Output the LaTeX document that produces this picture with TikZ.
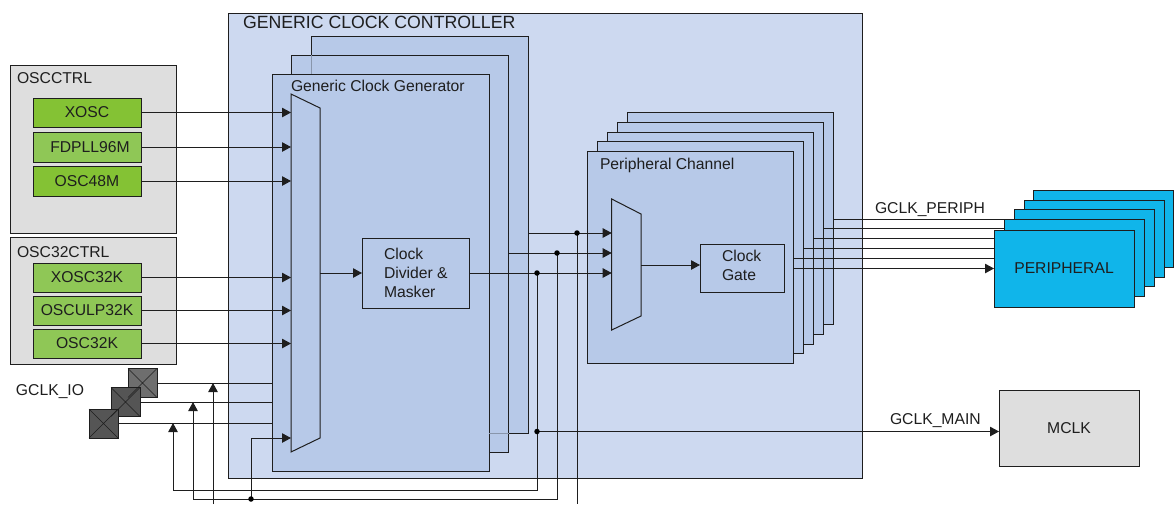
\documentclass[tikz,border=0pt]{standalone}
\usepackage{fontspec}
\setmainfont{Liberation Sans}
\usetikzlibrary{arrows.meta}
\definecolor{ctrlblue}{HTML}{CDD9F0}
\definecolor{panelblue}{HTML}{B7C9E8}
\definecolor{oscgray}{HTML}{DEDEDE}
\definecolor{oscgreen}{HTML}{84C234}
\definecolor{pllgreen}{HTML}{8FC756}
\definecolor{periphblue}{HTML}{10B5EA}
\definecolor{padgray}{HTML}{555555}
\definecolor{inkgray}{HTML}{1E1E1E}
\tikzset{
    box/.style={draw=inkgray,line width=1pt,inner sep=0pt,outer sep=0pt,rectangle},
    panel/.style={box,fill=panelblue},
    osc/.style={box,fill=oscgreen,font=\fontsize{15.7}{17}\selectfont,text=inkgray},
    periph/.style={box,fill=periphblue},
    pad/.style={box,fill=padgray,minimum size=29pt},
    label/.style={inner sep=0pt,outer sep=0pt,anchor=west,text=inkgray,font=\fontsize{15.7}{17}\selectfont},
    wire/.style={draw=inkgray,line width=1pt},
    arrow/.style={wire,-{Triangle[length=9pt,width=9.5pt]}},
    joint/.style={circle,fill=black,inner sep=0pt,minimum size=5.5pt}
}
\begin{document}
\begin{tikzpicture}[x=1pt,y=-1pt]
    \useasboundingbox (0,0) rectangle (1175,504);
    % oscillators
    \node[box,fill=oscgray,minimum width=166pt,minimum height=168pt] (oscctrl) at (93,149) {};
    \node[box,fill=oscgray,minimum width=166pt,minimum height=127pt] (osc32ctrl) at (93,300.5) {};
    \node[label] (oscctrltxt) at (17,78) {OSCCTRL};
    \node[label] (osc32ctrltxt) at (17,252) {OSC32CTRL};
    \node[osc,minimum width=108pt,minimum height=29pt] (xosc) at (87,112.5) {XOSC};
    \node[osc,fill=pllgreen,minimum width=108pt,minimum height=30pt] (fdpll) at (87,147) {\hspace*{6pt}FDPLL96M};
    \node[osc,minimum width=108pt,minimum height=30pt] (osc48) at (87,181) {OSC48M};
    \node[osc,fill=pllgreen,minimum width=108pt,minimum height=29pt] (xosc32) at (87,277.5) {XOSC32K};
    \node[osc,fill=pllgreen,minimum width=108pt,minimum height=29pt] (osculp) at (87,310.5) {OSCULP32K};
    \node[osc,fill=pllgreen,minimum width=108pt,minimum height=29pt] (osc32) at (87,343.5) {OSC32K};
    % controller and generators
    \node[box,fill=ctrlblue,minimum width=634pt,minimum height=465pt] (ctrl) at (545,245.5) {};
    \node[label,font=\fontsize{17.7}{19}\selectfont] (ctrltxt) at (243,22) {GENERIC CLOCK CONTROLLER};
    \node[panel,minimum width=217pt,minimum height=397pt] (genc) at (419.5,234.5) {};
    \node[panel,minimum width=217pt,minimum height=397pt] (genb) at (400,253.5) {};
    \node[panel,minimum width=217pt,minimum height=397pt] (gena) at (380.5,272.5) {};
    \draw[inkgray!30!panelblue] (genc.west |- genb.north) -- (genc.west |- gena.north);
    \draw[inkgray!30!panelblue] (gena.east |- genc.south) -- (genb.east |- genc.south);
    \node[label] (gentxt) at (291,85.5) {Generic Clock Generator};
    \coordinate (mtl) at (291,94);
    \coordinate (mtr) at (320,108);
    \coordinate (mbr) at (320,438);
    \coordinate (mbl) at (291,452);
    \draw[box,fill=panelblue] (mtl) -- (mtr) -- (mbr) -- (mbl) -- cycle;
    \node[box,fill=panelblue,minimum width=107pt,minimum height=70pt] (divider) at (415.5,273) {};
    \node[label,align=left,font=\fontsize{15.7}{19}\selectfont] (dividertxt) at (384,273) {Clock\\Divider \&\\Masker};
    % channels
    \foreach \i/\xc/\yt in {e/730/112.7,d/720/122.6,c/710/132,b/700/141,a/690/151}{
        \node[panel,minimum width=206pt,minimum height=212pt,anchor=north] (chan\i) at (\xc,\yt) {};
    }
    \node[label] (chantxt) at (600,165) {Peripheral Channel};
    \coordinate (ntl) at (611.7,199);
    \coordinate (ntr) at (641,214);
    \coordinate (nbr) at (641,316);
    \coordinate (nbl) at (611.7,330);
    \draw[box,fill=panelblue] (ntl) -- (ntr) -- (nbr) -- (nbl) -- cycle;
    \node[box,fill=panelblue,minimum width=84pt,minimum height=48pt] (gate) at (742,268.5) {};
    \node[label,align=left,font=\fontsize{15.7}{19}\selectfont] (gatetxt) at (722,265.5) {Clock\\Gate};
    % peripherals
    \foreach \i/\xc/\yt in {e/1103.7/190.7,d/1094.7/200,c/1084/209.7,b/1074/219.7}{
        \node[periph,minimum width=140pt,minimum height=77pt,anchor=north] (per\i) at (\xc,\yt) {};
    }
    \node[periph,minimum width=140pt,minimum height=77pt,font=\fontsize{15.7}{17}\selectfont,text=inkgray] (pera) at (1064,268.5) {PERIPHERAL};
    \node[box,fill=oscgray,minimum width=140pt,minimum height=76pt,font=\fontsize{15.7}{17}\selectfont,text=inkgray] (mclk) at (1069,428) {MCLK};
    % gclk pads
    \node[pad,fill=padgray!85!white] (padc) at (142.5,383) {};
    \node[pad] (padb) at (125.5,402) {};
    \node[pad] (pada) at (103.5,423.5) {};
    \foreach \p in {padc,padb,pada}{
        \draw[inkgray] (\p.north west) -- (\p.south east) (\p.north east) -- (\p.south west);
    }
    \node[label] (iotxt) at (16,392) {GCLK\_IO};
    \node[label] (periphtxt) at (875,210) {GCLK\_PERIPH};
    \node[label] (maintxt) at (890,421) {GCLK\_MAIN};
    % inputs of the generator mux
    \draw[arrow] (xosc.east) -- (291,112.5);
    \draw[arrow] (fdpll.east) -- (291,147);
    \draw[arrow] (osc48.east) -- (291,181);
    \draw[arrow] (xosc32.east) -- (291,277.5);
    \draw[arrow] (osculp.east) -- (291,310.5);
    \draw[arrow] (osc32.east) -- (291,343.5);
    \draw[wire] (padc.east) -- (padc.east -| gena.west);
    \draw[wire] (padb.east) -- (padb.east -| gena.west);
    \draw[wire] (pada.east) -- (pada.east -| gena.west);
    \draw[arrow] (320,273) -- (divider.west);
    % return paths
    \coordinate (ra) at (537,273);
    \coordinate (rb) at (557,253);
    \coordinate (rc) at (577,233);
    \coordinate (rm) at (537,431.5);
    \coordinate (rd) at (251,499);
    \draw[arrow] (divider.east) -- (611.7,273);
    \draw[arrow] (genb.east |- rb) -- (611.7,253);
    \draw[arrow] (genc.east |- rc) -- (611.7,233);
    \draw[arrow] (ra) -- (537,490.7) -- (173,490.7) -- (173,423);
    \draw[arrow] (rb) -- (557,499) -- (193,499) -- (193,402);
    \draw[wire] (rc) -- (577,504);
    \draw[arrow] (213,504) -- (213,383);
    \draw[arrow] (rd) -- (251,438) -- (291,438);
    \draw[arrow] (rm) -- (rm -| mclk.west);
    \node[joint] (ja) at (ra) {};
    \node[joint] (jb) at (rb) {};
    \node[joint] (jc) at (rc) {};
    \node[joint] (jm) at (rm) {};
    \node[joint] (jd) at (rd) {};
    % mux to gate and outputs
    \draw[arrow] (641,265) -- (gate.west |- 0,265);
    \draw[wire] (chane.east |- 0,219) -- (perb.west |- 0,219);
    \draw[wire] (chand.east |- 0,228.7) -- (perb.west |- 0,228.7);
    \draw[wire] (chanc.east |- 0,238) -- (pera.west |- 0,238);
    \draw[wire] (chanb.east |- 0,248.7) -- (pera.west |- 0,248.7);
    \draw[wire] (chana.east |- 0,258) -- (pera.west |- 0,258);
    \draw[arrow] (chana.east |- pera.west) -- (pera.west);
\end{tikzpicture}
\end{document}
